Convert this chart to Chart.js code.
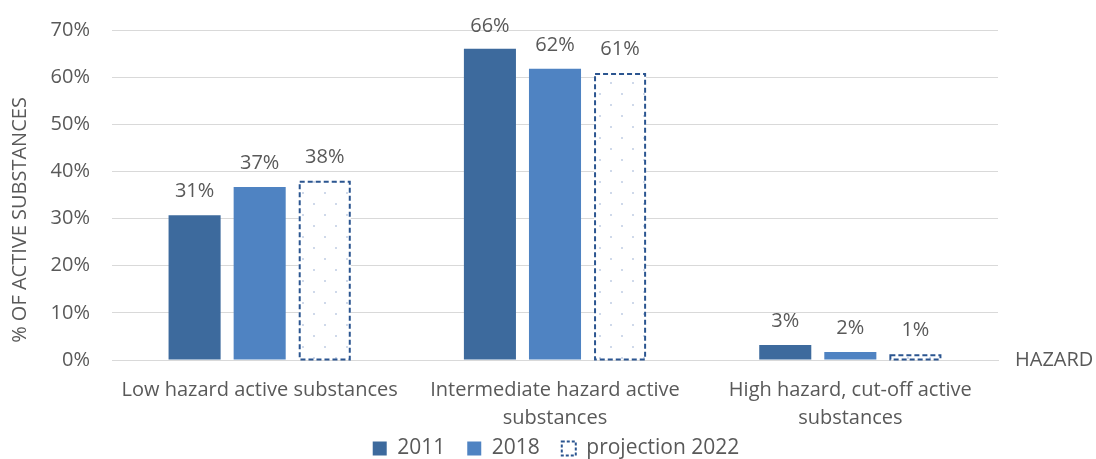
<!DOCTYPE html>
<html><head><meta charset="utf-8">
<script src="https://cdn.jsdelivr.net/npm/chart.js@4/dist/chart.umd.min.js"></script>
<style>html,body{margin:0;padding:0;background:#fff}#wrap{width:1096px;height:459px;position:relative}</style>
</head><body><div id="wrap"><canvas id="c"></canvas></div>
<script>
const categories = [['Low hazard active substances'], ['Intermediate hazard active', 'substances'], ['High hazard, cut-off active', 'substances']];
const seriesNames = ['2011', '2018', 'projection 2022'];
const values2011 = [30.7, 66.0, 3.2];
const values2018 = [36.7, 61.8, 1.7];
const valuesProjection = [38.0, 60.9, 1.2];
const yTickValues = [0, 10, 20, 30, 40, 50, 60, 70];
const yAxisTitle = '% OF ACTIVE SUBSTANCES';
const xAxisTitle = 'HAZARD';

const FONT = '"Open Sans"';
const FS = 20;
const TXT = '#595959';
const C2011 = '#3d6a9d';
const C2018 = '#4f83c2';
const CPROJ = '#2b5590';

const canvas = document.getElementById('c');
const ctx0 = canvas.getContext('2d');
function dotPattern() {
  const c = document.createElement('canvas');
  c.width = 22; c.height = 22;
  const x = c.getContext('2d');
  x.fillStyle = '#ffffff'; x.fillRect(0, 0, 22, 22);
  x.fillStyle = '#cfd9ea';
  x.fillRect(5, 5, 2, 2); x.fillRect(16, 16, 2, 2);
  return ctx0.createPattern(c, 'repeat');
}
const pattern = dotPattern();

const dashBorder = {
  id: 'dashBorder',
  afterDatasetsDraw(chart) {
    const meta = chart.getDatasetMeta(2);
    const ctx = chart.ctx;
    ctx.save();
    ctx.strokeStyle = CPROJ; ctx.lineWidth = 2; ctx.setLineDash([5, 3]);
    meta.data.forEach(b => {
      const p = b.getProps(['x', 'y', 'base', 'width'], true);
      ctx.strokeRect(p.x - p.width / 2 + 1, p.y + 1, p.width - 2, p.base - p.y - 1);
    });
    ctx.restore();
  }
};
const dataLabels = {
  id: 'dataLabels',
  afterDatasetsDraw(chart) {
    const ctx = chart.ctx;
    ctx.save();
    ctx.font = FS + 'px ' + FONT; ctx.fillStyle = TXT;
    ctx.textAlign = 'center'; ctx.textBaseline = 'alphabetic';
    chart.data.datasets.forEach((ds, i) => {
      chart.getDatasetMeta(i).data.forEach((b, j) => {
        const y = Math.max(b.y - 18, 32);
        ctx.fillText(Math.round(ds.data[j]) + '%', b.x, y);
      });
    });
    ctx.restore();
  }
};
const axisTitles = {
  id: 'axisTitles',
  afterDraw(chart) {
    const ctx = chart.ctx;
    const y0 = chart.scales.y.getPixelForValue(0);
    ctx.save();
    ctx.font = FS + 'px ' + FONT; ctx.fillStyle = TXT;
    ctx.textAlign = 'left'; ctx.textBaseline = 'middle';
    ctx.fillText(xAxisTitle, chart.chartArea.right + 17, y0);
    ctx.translate(20, y0 - 140);
    ctx.rotate(-Math.PI / 2);
    ctx.textAlign = 'center';
    ctx.fillText(yAxisTitle, 0, 0);
    ctx.restore();
  }
};
const legendShift = {
  id: 'legendShift',
  afterLayout(chart) {
    const lg = chart.legend;
    if (lg) { lg.top = lg.bottom - 43; lg.height = 43; lg.left += 8; lg.right += 8; }
  }
};

new Chart(canvas, {
  type: 'bar',
  data: {
    labels: categories,
    datasets: [
      { label: seriesNames[0], data: values2011, backgroundColor: C2011, borderWidth: 0 },
      { label: seriesNames[1], data: values2018, backgroundColor: C2018, borderWidth: 0 },
      { label: seriesNames[2], data: valuesProjection, backgroundColor: pattern, borderWidth: 0 }
    ]
  },
  options: {
    responsive: true, maintainAspectRatio: false, animation: false,
    datasets: { bar: { categoryPercentage: 0.661, barPercentage: 0.8 } },
    layout: { padding: { top: 0, right: 0, left: 0, bottom: 0 } },
    plugins: {
      tooltip: { enabled: false },
      legend: {
        position: 'bottom',
        maxHeight: 27,
        labels: {
          font: { family: 'Open Sans', size: 21 }, color: TXT, boxWidth: 14, boxHeight: 14, padding: 22,
          generateLabels(chart) {
            return chart.data.datasets.map((ds, i) => ({
              text: ds.label, datasetIndex: i,
              fillStyle: i === 2 ? '#ffffff' : ds.backgroundColor,
              strokeStyle: i === 2 ? CPROJ : ds.backgroundColor,
              lineWidth: i === 2 ? 2 : 0,
              lineDash: i === 2 ? [3, 2] : [],
              fontColor: TXT
            }));
          }
        }
      }
    },
    scales: {
      x: {
        afterFit(scale) { scale.height = 72; },
        grid: { display: false, drawTicks: false },
        border: { color: '#d9d9d9', width: 1 },
        ticks: { font: { family: 'Open Sans', size: FS, lineHeight: 1.4 }, color: TXT, padding: 16, maxRotation: 0, autoSkip: false }
      },
      y: {
        min: 0, max: 70,
        afterBuildTicks(scale) { scale.ticks = yTickValues.map(v => ({ value: v })); },
        afterFit(scale) { scale.width = 112; scale.paddingTop = 30; },
        grid: { color: '#d9d9d9', drawTicks: false },
        border: { display: false },
        ticks: { font: { family: 'Open Sans', size: FS }, color: TXT, padding: 22, callback: v => v + '%' }
      },
      yRight: {
        type: 'linear', position: 'right', axis: 'y',
        afterFit(scale) { scale.width = 98; scale.paddingTop = 30; },
        grid: { display: false, drawTicks: false },
        border: { display: false },
        ticks: { display: false }
      }
    }
  },
  plugins: [dashBorder, dataLabels, axisTitles, legendShift]
});
</script></body></html>
